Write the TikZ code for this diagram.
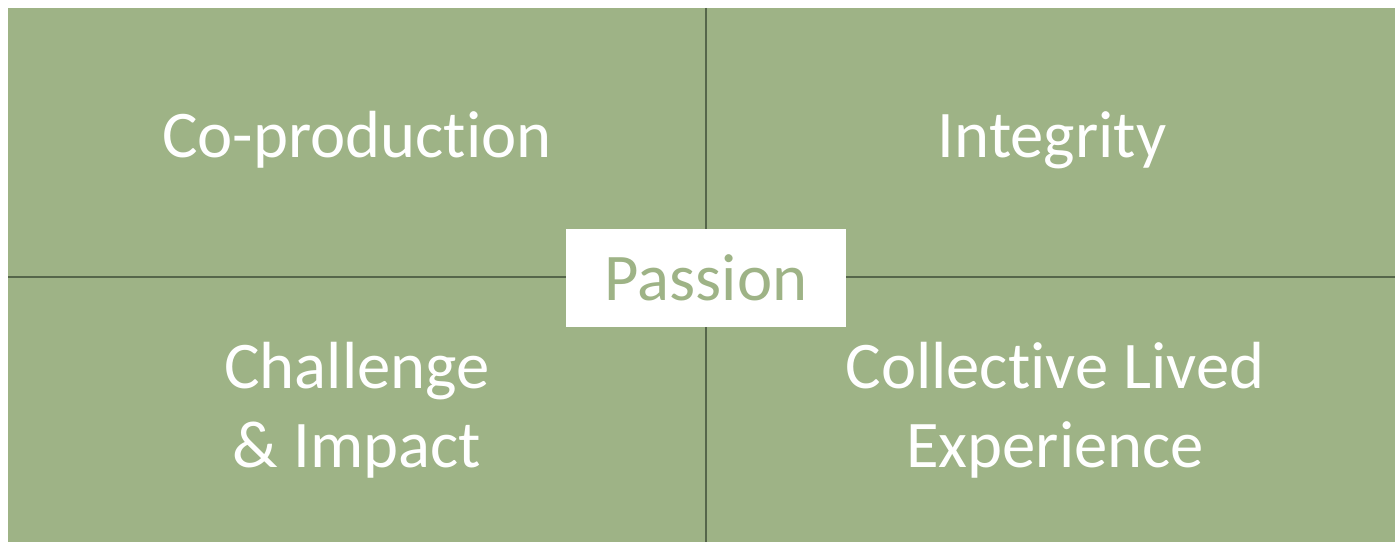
\documentclass[tikz,border=0pt]{standalone}
\usepackage{fontspec}
\setmainfont{Carlito}[Ligatures=NoCommon]
\usetikzlibrary{positioning}
\definecolor{sage}{HTML}{9EB386}
\definecolor{darksage}{HTML}{55664A}

\begin{document}
\begin{tikzpicture}[x=0.75pt,y=-0.75pt,
  every node/.style={font=\fontsize{50}{59}\selectfont, align=center},
  quad/.style={text=white},
  divider/.style={draw=darksage, line width=1pt}]
\useasboundingbox (0,0) rectangle (1395,542);
\fill[sage] (8,8) rectangle (1395,542);
\coordinate (top) at (706,8);
\coordinate (bottom) at (706,542);
\coordinate (left) at (8,277);
\coordinate (right) at (1395,277);
\draw[divider] (top) -- (bottom);
\draw[divider] (left) -- (right);
\node[quad] (coprod) at (357,140) {Co-production};
\node[quad] (integ) at (1052,140) {Integrity};
\node[quad] (chall) at (357,410) {Challenge\\ \& Impact};
\node[quad] (lived) at (1055,410) {Collective Lived\\ Experience};
\node[fill=white, text=sage, minimum width=280*0.75pt, minimum height=98*0.75pt,
  inner sep=0pt] (passion) at (706,277.5) {Passion};
\end{tikzpicture}
\end{document}
